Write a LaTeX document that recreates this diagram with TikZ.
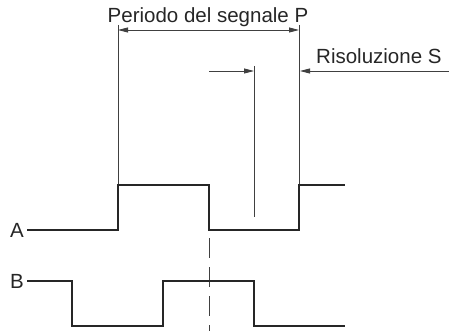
\documentclass[tikz,border=0pt]{standalone}
\usepackage{fontspec}
\setmainfont{Liberation Sans}
\usetikzlibrary{arrows.meta}
\begin{document}
\begin{tikzpicture}[x=1pt,y=-1pt,
  sig/.style={line width=1.8pt,color=black!85},
  dim/.style={line width=0.9pt,color=black!75},
  tip/.style={-{Triangle[length=10pt,width=5pt]}},
  tips/.style={{Triangle[length=10pt,width=5pt]}-{Triangle[length=10pt,width=5pt]}},
  lab/.style={font=\fontsize{20.5}{24}\selectfont,text=black!85,inner sep=0pt}]
\useasboundingbox (0,0) rectangle (449,331);
% labels
\node[lab,anchor=base] (per) at (208,23) {Periodo del segnale P};
\node[lab,anchor=base west] (ris) at (316,64) {Risoluzione S};
\node[lab,anchor=east] (A) at (24,230) {A};
\node[lab,anchor=east] (B) at (24,281) {B};
% coordinates
\coordinate (p1t) at (118,25);
\coordinate (p1b) at (118,185);
\coordinate (p2t) at (299,25);
\coordinate (p2b) at (299,185);
\coordinate (st) at (254,66);
\coordinate (sb) at (254,217);
\coordinate (pl) at (118,30);
\coordinate (pr) at (299,30);
\coordinate (sl0) at (209,71);
\coordinate (sl1) at (254,71);
\coordinate (sr0) at (449,71);
\coordinate (sr1) at (300,71);
\coordinate (dt) at (209,238);
\coordinate (db) at (209,331);
% dimension lines
\draw[dim] (p1t) -- (p1b);
\draw[dim] (p2t) -- (p2b);
\draw[dim] (st) -- (sb);
\draw[dim,tips] (pl) -- (pr);
\draw[dim,tip] (sl0) -- (sl1);
\draw[dim,tip] (sr0) -- (sr1);
\draw[dim,dash pattern=on 20pt off 9pt] (dt) -- (db);
% signal A
\draw[sig] (A.east) ++(3,0) -- (118,230) -- (118,185) -- (209,185) -- (209,230) -- (299,230) -- (299,185) -- (345,185);
% signal B
\draw[sig] (B.east) ++(3,0) -- (72,281) -- (72,326) -- (163,326) -- (163,281) -- (254,281) -- (254,326) -- (345,326);
\end{tikzpicture}
\end{document}
